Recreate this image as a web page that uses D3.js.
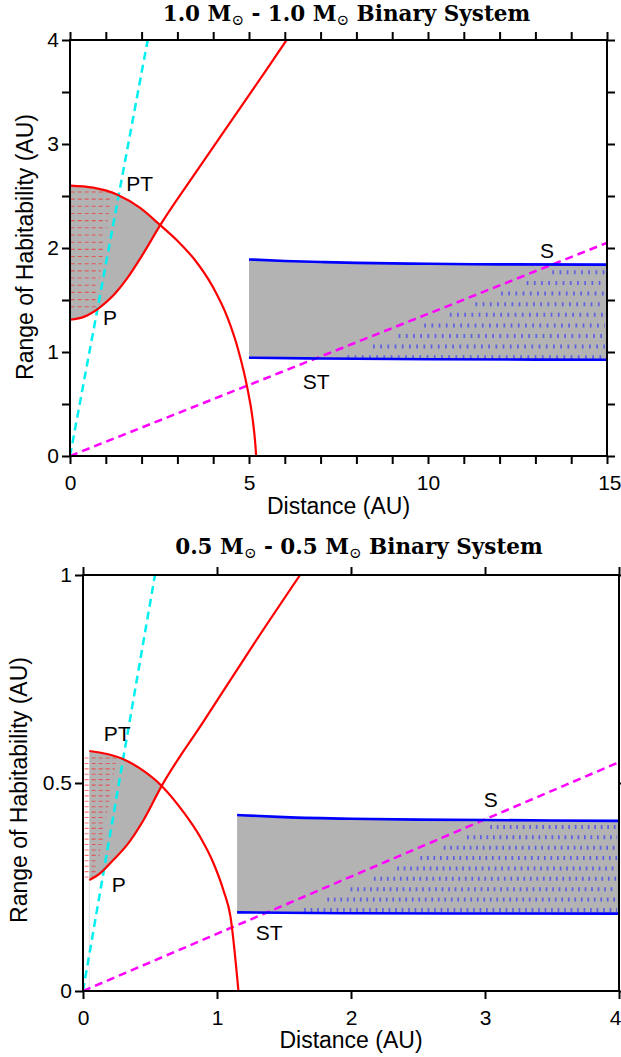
<!DOCTYPE html>
<html><head><meta charset="utf-8">
<script src="https://cdn.jsdelivr.net/npm/d3@7"></script>
<style>body{margin:0;background:#fff}svg{display:block}</style>
</head><body>
<svg id="c" width="621" height="1057"></svg>
<script>
// ---------- DATA ----------
// Top panel: 1.0 - 1.0 Msun
const topTitleMass = ["1.0", "1.0"];
const topXTicks = d3.range(0, 16, 1);
const topXLabels = [0, 5, 10, 15];
const topYTicks = [0, 0.5, 1, 1.5, 2, 2.5, 3, 3.5, 4];
const topYLabels = [0, 1, 2, 3, 4];
const topArc = [[0,2.6],[0.65,2.58],[1.34,2.51],[1.94,2.39],[2.52,2.22],[3.0,2.07],[3.5,1.88],[4.0,1.62],[4.4,1.33],[4.7,1.02],[4.95,0.66],[5.1,0.36],[5.18,0.1],[5.2,0]];
const topLower = [[0,1.31],[0.4,1.34],[0.8,1.42],[1.2,1.54],[1.6,1.71],[2.0,1.92],[2.52,2.22],[3.5,2.72],[4.5,3.22],[5.5,3.72],[6.05,4.0]];
const topCyan = [[0,0],[2.17,4]];
const topMagenta = [[0,0],[15,2.05]];
const topSUpper = [[5,1.89],[6,1.875],[7,1.865],[8,1.857],[10,1.848],[12,1.843],[15,1.84]];
const topSLower = [[5,0.945],[7,0.937],[10,0.93],[15,0.925]];
const topRedHatchEdge = [[0.72,1.435],[1.16,2.54]];
const topBlueHatchEdge = [[7.75,0.95],[13.5,1.77]];
const topLabels = [["PT",1.57,2.55],["P",0.92,1.26],["S",13.13,1.907],["ST",6.5,0.644]];

// Bottom panel: 0.5 - 0.5 Msun
const botTitleMass = ["0.5", "0.5"];
const botXTicks = [0, 1, 2, 3, 4];
const botXLabels = [0, 1, 2, 3, 4];
const botYTicks = [0, 0.5, 1];
const botYLabels = [0, 0.5, 1];
const botArc = [[0.047,0.577],[0.289,0.559],[0.425,0.535],[0.587,0.493],[0.75,0.43],[0.873,0.371],[0.97,0.31],[1.05,0.24],[1.1,0.18],[1.16,0]];
const botLower = [[0.047,0.267],[0.127,0.283],[0.226,0.315],[0.326,0.35],[0.45,0.41],[0.587,0.493],[0.9,0.648],[1.25,0.822],[1.62,1.0]];
const botCyan = [[0,0],[0.537,1]];
const botMagenta = [[0,0],[4,0.55]];
const botSUpper = [[1.15,0.423],[1.5,0.418],[2,0.414],[2.5,0.412],[3,0.411],[4,0.409]];
const botSLower = [[1.15,0.189],[2,0.187],[4,0.186]];
const botRedHatchEdge = [[0.097,0.274],[0.25,0.559]];
const botBlueHatchEdge = [[1.65,0.195],[3.045,0.395]];
const botLabels = [["PT",0.155,0.602],["P",0.215,0.239],["S",2.99,0.442],["ST",1.29,0.123]];

// ---------- DRAWING ----------
const svg = d3.select('#c');
const SANS = "'Liberation Sans', Arial, Helvetica, sans-serif";
const SERIF = "'DejaVu Serif', 'Liberation Serif', serif";
let clipId = 0;

function edgeX(edge, y) {
  const [[x1,y1],[x2,y2]] = edge;
  return x1 + (y - y1) * (x2 - x1) / (y2 - y1);
}

function panel(c) {
  const x = d3.scaleLinear().domain(c.xDom).range(c.xRange);
  const y = d3.scaleLinear().domain(c.yDom).range(c.yRange);
  const g = svg.append('g');
  const line = d3.line().x(d => x(d[0])).y(d => y(d[1]));
  const smooth = d3.line().x(d => x(d[0])).y(d => y(d[1])).curve(d3.curveMonotoneX);

  const cid = 'clip' + (clipId++);
  g.append('clipPath').attr('id', cid).append('rect')
    .attr('x', c.xRange[0]).attr('y', c.yRange[1])
    .attr('width', c.xRange[1] - c.xRange[0]).attr('height', c.yRange[0] - c.yRange[1]);
  const pg = g.append('g').attr('clip-path', `url(#${cid})`);

  // P region (gray) between the two red curves, up to their crossing
  const ix = c.pIntersect;
  const arcPart = c.arc.filter(d => d[0] <= ix[0] + 1e-9);
  const loPart = c.lower.filter(d => d[0] <= ix[0] + 1e-9);
  const sampler = (pts) => {
    const p = document.createElementNS('http://www.w3.org/2000/svg','path');
    p.setAttribute('d', smooth(pts));
    svg.node().appendChild(p);
    const L = p.getTotalLength(); const out = [];
    for (let i = 0; i <= 80; i++) { const q = p.getPointAtLength(L*i/80); out.push([q.x,q.y]); }
    p.remove(); return out;
  };
  const upS = sampler(arcPart);
  const loS = sampler(loPart).reverse();
  if (c.pLeftLine) {
    pg.append('line').attr('x1', x(c.lower[0][0])).attr('x2', x(c.lower[0][0]))
      .attr('y1', y(c.lower[0][1])).attr('y2', y(0)).attr('stroke', '#e2e2e2').attr('stroke-width', 1);
  }
  pg.append('path').attr('d', 'M' + upS.concat(loS).map(p => p.join(',')).join('L') + 'Z')
    .attr('fill', '#b3b3b3');

  // S region (gray)
  const sPoly = c.sUpper.concat(c.sLower.slice().reverse());
  pg.append('path').attr('d', line(sPoly) + 'Z').attr('fill', '#b3b3b3');

  // red hatch
  for (let yy = c.redRows[0]; yy <= c.redRows[1] + 1e-9; yy += c.redRows[2]) {
    pg.append('line').attr('x1', x(c.redStart)).attr('x2', x(edgeX(c.redEdge, yy)))
      .attr('y1', y(yy)).attr('y2', y(yy))
      .attr('stroke', '#ff1a1a').attr('stroke-opacity', 0.6).attr('stroke-width', 1.1)
      .attr('stroke-dasharray', '4,3');
  }
  // blue hatch
  for (let yy = c.blueRows[0]; yy <= c.blueRows[1] + 1e-9; yy += c.blueRows[2]) {
    pg.append('line').attr('x1', x(edgeX(c.blueEdge, yy))).attr('x2', x(c.xDom[1]) - 2)
      .attr('y1', y(yy)).attr('y2', y(yy))
      .attr('stroke', '#3333ff').attr('stroke-opacity', 0.65).attr('stroke-width', 4)
      .attr('stroke-dasharray', '1.7,' + c.blueGap);
  }

  // lines
  pg.append('path').attr('d', line(c.cyan)).attr('fill','none').attr('stroke','#00f0f0')
    .attr('stroke-width', 2.5).attr('stroke-dasharray', '8,5');
  pg.append('path').attr('d', line(c.magenta)).attr('fill','none').attr('stroke','#ff00ff')
    .attr('stroke-width', 2.5).attr('stroke-dasharray', '8,5');
  pg.append('path').attr('d', smooth(c.arc)).attr('fill','none').attr('stroke','#ff0000').attr('stroke-width', 2.2);
  pg.append('path').attr('d', smooth(c.lower)).attr('fill','none').attr('stroke','#ff0000').attr('stroke-width', 2.2);
  pg.append('path').attr('d', smooth(c.sUpper)).attr('fill','none').attr('stroke','#0000ff').attr('stroke-width', 2.6);
  pg.append('path').attr('d', smooth(c.sLower)).attr('fill','none').attr('stroke','#0000ff').attr('stroke-width', 2.6);

  // annotation labels
  c.labels.forEach(([t, lx, ly]) => {
    g.append('text').attr('x', x(lx)).attr('y', y(ly)).text(t)
      .attr('font-family', SANS).attr('font-size', 21).attr('fill', '#000');
  });

  // axes
  const fmt = (labels) => d => labels.includes(d) ? String(d) : '';
  const styleAxis = (sel) => {
    sel.select('.domain').remove();
    sel.selectAll('line').attr('stroke', '#000').attr('stroke-width', 2);
    sel.selectAll('text').attr('font-family', SANS).attr('font-size', 21).attr('fill', '#000');
  };
  const xb = g.append('g').attr('transform', `translate(0,${c.yRange[0]})`)
    .call(d3.axisBottom(x).tickValues(c.xTicks).tickFormat(fmt(c.xLabels)).tickSize(8).tickPadding(11))
    .call(styleAxis);
  // keep the last label inside the page
  xb.selectAll('text').filter(d => d === c.xDom[1] && x(d) > 600)
    .attr('text-anchor', 'end').attr('x', 621 - x(c.xDom[1]));
  g.append('g').attr('transform', `translate(0,${c.yRange[1]})`)
    .call(d3.axisTop(x).tickValues(c.xTicks).tickFormat('').tickSize(8))
    .call(styleAxis);
  g.append('g').attr('transform', `translate(${c.xRange[0]},0)`)
    .call(d3.axisLeft(y).tickValues(c.yTicks).tickFormat(fmt(c.yLabels)).tickSize(8).tickPadding(3))
    .call(styleAxis);
  g.append('g').attr('transform', `translate(${c.xRange[1]},0)`)
    .call(d3.axisRight(y).tickValues(c.yTicks).tickFormat('').tickSize(8))
    .call(styleAxis);
  g.append('rect').attr('x', c.xRange[0]).attr('y', c.yRange[1])
    .attr('width', c.xRange[1] - c.xRange[0]).attr('height', c.yRange[0] - c.yRange[1])
    .attr('fill', 'none').attr('stroke', '#000').attr('stroke-width', 2);

  // axis titles
  const cx = (c.xRange[0] + c.xRange[1]) / 2;
  g.append('text').attr('x', cx).attr('y', c.xTitleY).attr('text-anchor', 'middle')
    .attr('font-family', SANS).attr('font-size', 23).text('Distance (AU)');
  g.append('text').attr('transform', `translate(${c.yTitleX},${c.yTitleCY}) rotate(-90)`)
    .attr('text-anchor', 'middle').attr('font-family', SANS).attr('font-size', 23)
    .text('Range of Habitability (AU)');

  // title
  const t = g.append('text').attr('x', cx + 8).attr('y', c.titleY).attr('text-anchor', 'middle')
    .attr('font-family', SERIF).attr('font-size', 21.5).attr('font-weight', 'bold');
  t.append('tspan').text(c.mass[0] + ' M');
  t.append('tspan').attr('font-size', 15).attr('font-weight', 'normal').attr('dy', 4).text('\u2299');
  t.append('tspan').attr('dy', -4).text(' - ' + c.mass[1] + ' M');
  t.append('tspan').attr('font-size', 15).attr('font-weight', 'normal').attr('dy', 4).text('\u2299');
  t.append('tspan').attr('dy', -4).text(' Binary System');
}

panel({
  xDom: [0, 15], xRange: [70, 607], yDom: [0, 4], yRange: [456, 40],
  xTicks: topXTicks, xLabels: topXLabels, yTicks: topYTicks, yLabels: topYLabels,
  arc: topArc, lower: topLower, pIntersect: [2.52, 2.22],
  cyan: topCyan, magenta: topMagenta, sUpper: topSUpper, sLower: topSLower,
  redRows: [1.435, 2.55, 0.069], redStart: 0.02, redEdge: topRedHatchEdge,
  blueRows: [0.95, 1.80, 0.102], blueEdge: topBlueHatchEdge, blueGap: 5.5,
  labels: topLabels, mass: topTitleMass,
  titleY: 21, xTitleY: 514, yTitleX: 33, yTitleCY: 247
});
panel({
  xDom: [0, 4], xRange: [83, 619], yDom: [0, 1], yRange: [991, 575],
  xTicks: botXTicks, xLabels: botXLabels, yTicks: botYTicks, yLabels: botYLabels,
  arc: botArc, lower: botLower, pIntersect: [0.587, 0.493], pLeftLine: true,
  cyan: botCyan, magenta: botMagenta, sUpper: botSUpper, sLower: botSLower,
  redRows: [0.274, 0.56, 0.013], redStart: 0.012, redEdge: botRedHatchEdge,
  blueRows: [0.195, 0.40, 0.0249], blueEdge: botBlueHatchEdge, blueGap: 4.8,
  labels: botLabels, mass: botTitleMass,
  titleY: 554, xTitleY: 1048, yTitleX: 27, yTitleCY: 790
});
</script>
</body></html>
